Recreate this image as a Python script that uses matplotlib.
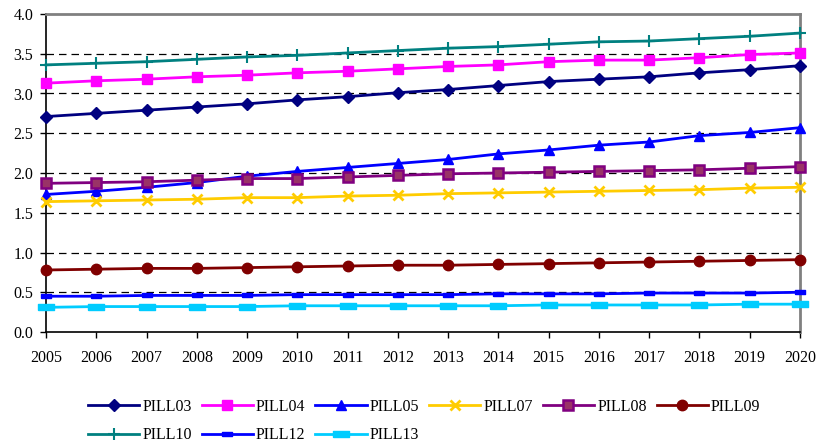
import matplotlib
matplotlib.use("Agg")
import matplotlib.pyplot as plt
import numpy as np

years = list(range(2005, 2021))

pill03 = [2.71, 2.75, 2.79, 2.83, 2.87, 2.92, 2.96, 3.01, 3.05, 3.10, 3.15, 3.18, 3.21, 3.26, 3.30, 3.35]
pill04 = [3.13, 3.16, 3.18, 3.21, 3.23, 3.26, 3.28, 3.31, 3.34, 3.36, 3.40, 3.42, 3.42, 3.45, 3.49, 3.51]
pill05 = [1.73, 1.77, 1.82, 1.88, 1.96, 2.02, 2.07, 2.12, 2.17, 2.24, 2.29, 2.35, 2.39, 2.47, 2.51, 2.57]
pill07 = [1.64, 1.65, 1.66, 1.67, 1.69, 1.69, 1.71, 1.72, 1.74, 1.75, 1.76, 1.77, 1.78, 1.79, 1.81, 1.82]
pill08 = [1.87, 1.88, 1.89, 1.91, 1.93, 1.93, 1.95, 1.97, 1.99, 2.00, 2.01, 2.02, 2.03, 2.04, 2.06, 2.08]
pill09 = [0.78, 0.79, 0.80, 0.80, 0.81, 0.82, 0.83, 0.84, 0.84, 0.85, 0.86, 0.87, 0.88, 0.89, 0.90, 0.91]
pill10 = [3.36, 3.38, 3.40, 3.43, 3.46, 3.48, 3.51, 3.54, 3.57, 3.59, 3.62, 3.65, 3.66, 3.69, 3.72, 3.76]
pill12 = [0.45, 0.45, 0.46, 0.46, 0.46, 0.47, 0.47, 0.47, 0.47, 0.48, 0.48, 0.48, 0.49, 0.49, 0.49, 0.50]
pill13 = [0.31, 0.32, 0.32, 0.32, 0.32, 0.33, 0.33, 0.33, 0.33, 0.33, 0.34, 0.34, 0.34, 0.34, 0.35, 0.35]

labels = ["PILL03", "PILL04", "PILL05", "PILL07", "PILL08", "PILL09", "PILL10", "PILL12", "PILL13"]

plt.rcParams['font.family'] = ['Liberation Serif', 'DejaVu Serif']

# wide rectangle marker (horizontal bar)
bar_marker = [(-1, -0.45), (1, -0.45), (1, 0.45), (-1, 0.45), (-1, -0.45)]

styles = [
    dict(color="#000080", marker="D", ms=6, mfc="#000080", mec="#000080"),
    dict(color="#FF00FF", marker="s", ms=7.5, mfc="#FF00FF", mec="#FF00FF"),
    dict(color="#0000FF", marker="^", ms=7.5, mfc="#0000FF", mec="#0000FF"),
    dict(color="#FFCC00", marker="x", ms=7, mew=2, mfc="#FFCC00", mec="#FFCC00"),
    dict(color="#800080", marker="s", ms=7.5, mfc="#993366", mec="#800080", mew=1.8),
    dict(color="#800000", marker="o", ms=7.5, mfc="#800000", mec="#800000"),
    dict(color="#008080", marker="+", ms=8, mew=1.5, mfc="#008080", mec="#008080"),
    dict(color="#0000FF", marker=bar_marker, ms=7, mfc="#0000FF", mec="#0000FF"),
    dict(color="#00CCFF", marker=bar_marker, ms=11, mfc="#00CCFF", mec="#00CCFF"),
]

series = [pill03, pill04, pill05, pill07, pill08, pill09, pill10, pill12, pill13]

fig = plt.figure(figsize=(8.18, 4.44), dpi=100)
ax = fig.add_axes([46 / 818, 1 - 332 / 444, (800 - 46) / 818, (332 - 14) / 444])

handles = []
for lab, vals, st in zip(labels, series, styles):
    h, = ax.plot(years, vals, lw=2, label=lab, clip_on=False, zorder=3, **st)
    handles.append(h)

ax.set_xlim(2005, 2020)
ax.set_ylim(0, 4.0)
ax.set_xticks(years)
ax.set_xticklabels([str(y) for y in years], fontsize=11.5)
yt = np.arange(0, 4.01, 0.5)
ax.set_yticks(yt)
ax.set_yticklabels([f"{v:.1f}" for v in yt], fontsize=11.5)

for v in np.arange(0.5, 4.0, 0.5):
    ax.axhline(v, color="black", lw=0.9, ls=(0, (6, 4)), zorder=1)

ax.spines["left"].set_color("black")
ax.spines["bottom"].set_color("black")
ax.spines["left"].set_linewidth(1.2)
ax.spines["bottom"].set_linewidth(1.2)
ax.spines["top"].set_color("#808080")
ax.spines["right"].set_color("#808080")
ax.spines["top"].set_linewidth(2)
ax.spines["right"].set_linewidth(2)
ax.tick_params(direction="out", length=4, width=1, colors="black")
ax.tick_params(axis="x", pad=9)
ax.tick_params(axis="y", pad=5)

# legend laid out row by row (matplotlib fills columns first)
order = [0, 6, 1, 7, 2, 8, 3, 4, 5]
fig.legend([handles[i] for i in order], [labels[i] for i in order],
           loc="upper left", bbox_to_anchor=(88 / 818, 1 - 399 / 444),
           ncol=6, frameon=False, fontsize=11.5, handlelength=3.2, handletextpad=0.2,
           columnspacing=0.62, labelspacing=0.78, borderaxespad=0, borderpad=0)

fig.savefig("out.png", dpi=100)
